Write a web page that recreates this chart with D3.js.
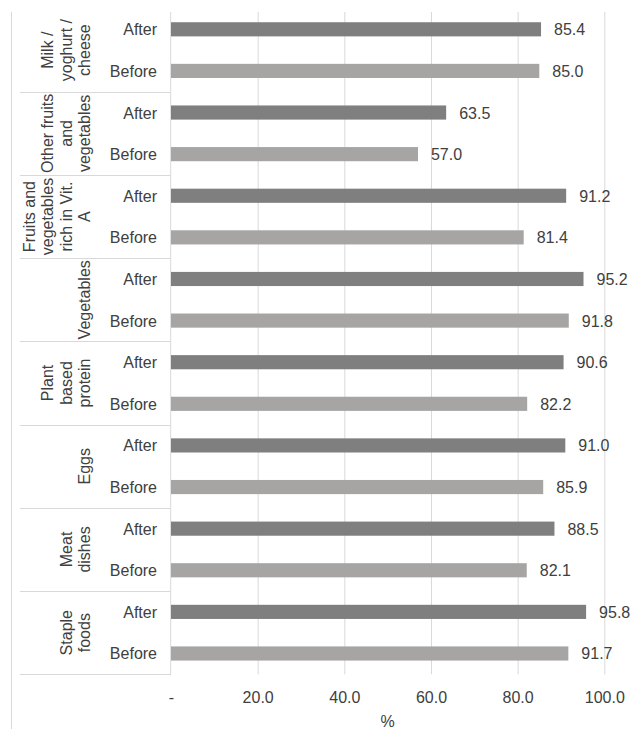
<!DOCTYPE html>
<html>
<head>
<meta charset="utf-8">
<script src="https://cdn.jsdelivr.net/npm/d3@7"></script>
<style>
  html, body { margin: 0; padding: 0; background: #fff; }
  svg text { font-family: "Liberation Sans", Arial, sans-serif; fill: #404040; }
</style>
</head>
<body>
<svg id="chart" width="636" height="729"></svg>
<script>
// Food groups, top to bottom; each label is split into its display lines
const groups = [
  "Milk / yoghurt / cheese",
  "Other fruits and vegetables",
  "Fruits and vegetables rich in Vit. A",
  "Vegetables",
  "Plant based protein",
  "Eggs",
  "Meat dishes",
  "Staple foods"
];
const groupLines = [
  ["Milk /", "yoghurt /", "cheese"],
  ["Other fruits", "and", "vegetables"],
  ["Fruits and", "vegetables", "rich in Vit.", "A"],
  ["Vegetables"],
  ["Plant", "based", "protein"],
  ["Eggs"],
  ["Meat", "dishes"],
  ["Staple", "foods"]
];
const periods = ["After", "Before"];
const afterValues  = [85.4, 63.5, 91.2, 95.2, 90.6, 91.0, 88.5, 95.8];
const beforeValues = [85.0, 57.0, 81.4, 91.8, 82.2, 85.9, 82.1, 91.7];
const tickValues = [0, 20, 40, 60, 80, 100];
const tickLabels = ["-", "20.0", "40.0", "60.0", "80.0", "100.0"];
const axisTitle = "%";

const rows = [];
groups.forEach((g, i) => {
  rows.push({ group: g, period: "After", value: afterValues[i] });
  rows.push({ group: g, period: "Before", value: beforeValues[i] });
});

const svg = d3.select("#chart");
const plot = { left: 171, right: 604.3, top: 8.5, bottom: 674.3, gridTop: 12 };

const x = d3.scaleLinear().domain([0, 100]).range([plot.left, plot.right]);
const yGroup = d3.scaleBand().domain(groups).range([plot.top, plot.bottom]).padding(0);
const yPeriod = d3.scaleBand().domain(periods).range([0, yGroup.bandwidth()]).padding(0);
const color = d3.scaleOrdinal().domain(periods).range(["#7f7f7f", "#a7a4a4"]);
const barH = yPeriod.bandwidth() * 0.34;

// outer frame edge on the left
svg.append("line")
  .attr("x1", 11.5).attr("x2", 11.5)
  .attr("y1", plot.gridTop).attr("y2", 729)
  .attr("stroke", "#d9d9d9").attr("stroke-width", 1);

// vertical gridlines
const xAxis = d3.axisBottom(x)
  .tickValues(tickValues)
  .tickFormat((d, i) => tickLabels[i])
  .tickSize(-(plot.bottom - plot.gridTop))
  .tickPadding(17);
const gx = svg.append("g")
  .attr("transform", `translate(0,${plot.bottom})`)
  .call(xAxis);
gx.select(".domain").remove();
gx.selectAll(".tick line").attr("stroke", "#d9d9d9").attr("stroke-width", 1);
gx.selectAll(".tick text")
  .attr("font-size", 16)
  .attr("fill", "#404040")
  .style("font-family", '"Liberation Sans", Arial, sans-serif');
// hide gridline at zero: the category axis line sits there
gx.selectAll(".tick").filter(d => d === 0).select("line").remove();

// category axis line
svg.append("line")
  .attr("x1", plot.left - 0.3).attr("x2", plot.left - 0.3)
  .attr("y1", plot.gridTop).attr("y2", plot.bottom)
  .attr("stroke", "#d9d9d9").attr("stroke-width", 1);

// group separators spanning the label column
svg.append("g").selectAll("line")
  .data(groups)
  .join("line")
  .attr("x1", 20).attr("x2", plot.left)
  .attr("y1", d => Math.round(yGroup(d) + yGroup.bandwidth()) + 0.5)
  .attr("y2", d => Math.round(yGroup(d) + yGroup.bandwidth()) + 0.5)
  .attr("stroke", "#d9d9d9").attr("stroke-width", 1);

// bars
svg.append("g").selectAll("rect")
  .data(rows)
  .join("rect")
  .attr("x", x(0))
  .attr("y", d => yGroup(d.group) + yPeriod(d.period) + yPeriod.bandwidth() / 2 - barH / 2)
  .attr("width", d => x(d.value) - x(0))
  .attr("height", barH)
  .attr("fill", d => color(d.period));

// value labels
svg.append("g").selectAll("text")
  .data(rows)
  .join("text")
  .attr("x", d => x(d.value) + 13)
  .attr("y", d => yGroup(d.group) + yPeriod(d.period) + yPeriod.bandwidth() / 2 + 6)
  .attr("font-size", 16)
  .text(d => d.value.toFixed(1));

// period labels
svg.append("g").selectAll("text")
  .data(rows)
  .join("text")
  .attr("x", 157)
  .attr("y", d => yGroup(d.group) + yPeriod(d.period) + yPeriod.bandwidth() / 2 + 6)
  .attr("text-anchor", "end")
  .attr("font-size", 16)
  .text(d => d.period);

// rotated group labels
const lineGap = 18.5;
groups.forEach((g, i) => {
  const lines = groupLines[i];
  const cy = yGroup(g) + yGroup.bandwidth() / 2;
  lines.forEach((ln, k) => {
    const bx = 90 - (lines.length - 1 - k) * lineGap;
    svg.append("text")
      .attr("transform", `translate(${bx},${cy}) rotate(-90)`)
      .attr("text-anchor", "middle")
      .attr("font-size", 16)
      .text(ln);
  });
});

// axis title
svg.append("text")
  .attr("x", 387.5)
  .attr("y", 726.5)
  .attr("text-anchor", "middle")
  .attr("font-size", 16)
  .text(axisTitle);
</script>
</body>
</html>
